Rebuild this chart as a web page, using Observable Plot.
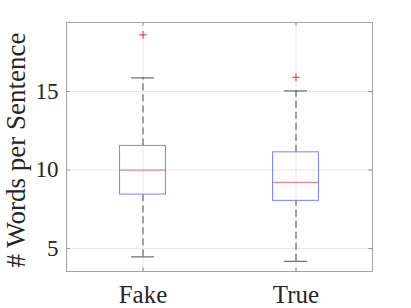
<!DOCTYPE html>
<html>
<head>
<meta charset="utf-8">
<script src="https://cdn.jsdelivr.net/npm/d3@7"></script>
<script src="https://cdn.jsdelivr.net/npm/@observablehq/plot@0.6"></script>
<style>
  html, body { margin: 0; padding: 0; background: #fff; }
  #chart svg { display: block; }
  #chart svg, #chart svg text { font-family: "Liberation Serif", "Times New Roman", Times, serif !important; }
</style>
</head>
<body>
<div id="chart"></div>
<script>
const categories = ["Fake", "True"];
const q1 = [8.44, 8.04];
const medians = [10.0, 9.22];
const q3 = [11.54, 11.13];
const whiskerLow = [4.47, 4.19];
const whiskerHigh = [15.87, 15.04];
const outlierCategory = ["Fake", "True"];
const outlierValue = [18.61, 15.91];
const yTicks = [5, 10, 15];
const yLabel = "# Words per Sentence";

const boxes = categories.map((c, i) => ({
  cat: c, x: i + 1, q1: q1[i], med: medians[i], q3: q3[i], lo: whiskerLow[i], hi: whiskerHigh[i]
}));
const outliers = outlierCategory.map((c, i) => ({ x: categories.indexOf(c) + 1, v: outlierValue[i] }));
const xPos = categories.map((c, i) => i + 1);

const halfBox = 0.15, halfCap = 0.075;
const xDomain = [0.5, categories.length + 0.5];
const yDomain = [3.54, 19.4];
const tickLen = (xDomain[1] - xDomain[0]) * 0.012;
const tickLenY = (yDomain[1] - yDomain[0]) * 0.014;
const whiskerColor = "#4d4d4d";

const chart = Plot.plot({
  width: 411,
  height: 308,
  marginLeft: 66,
  marginRight: 39,
  marginTop: 22,
  marginBottom: 37,
  style: { color: "#262626", background: "#fff" },
  x: { domain: xDomain },
  y: { domain: yDomain },
  marks: [
    Plot.ruleY(yTicks, { stroke: "#e8e8e8", strokeWidth: 1 }),
    Plot.ruleX(xPos, { stroke: "#e8e8e8", strokeWidth: 1 }),
    // inward ticks
    Plot.ruleY(yTicks, { x1: xDomain[0], x2: xDomain[0] + tickLen, stroke: "#8a8a8a" }),
    Plot.ruleY(yTicks, { x1: xDomain[1], x2: xDomain[1] - tickLen, stroke: "#8a8a8a" }),
    Plot.ruleX(xPos, { y1: yDomain[0], y2: yDomain[0] + tickLenY, stroke: "#8a8a8a" }),
    Plot.ruleX(xPos, { y1: yDomain[1], y2: yDomain[1] - tickLenY, stroke: "#8a8a8a" }),
    // whiskers
    Plot.ruleX(boxes, { x: "x", y1: "q3", y2: "hi", stroke: whiskerColor, strokeDasharray: "7,4" }),
    Plot.ruleX(boxes, { x: "x", y1: "lo", y2: "q1", stroke: whiskerColor, strokeDasharray: "7,4" }),
    Plot.ruleY(boxes, { y: "hi", x1: d => d.x - halfCap, x2: d => d.x + halfCap, stroke: whiskerColor }),
    Plot.ruleY(boxes, { y: "lo", x1: d => d.x - halfCap, x2: d => d.x + halfCap, stroke: whiskerColor }),
    // boxes
    Plot.rect(boxes, { x1: d => d.x - halfBox, x2: d => d.x + halfBox, y1: "q1", y2: "q3", fill: "none", stroke: "#7683ff", strokeWidth: 1 }),
    Plot.ruleY(boxes, { y: "med", x1: d => d.x - halfBox, x2: d => d.x + halfBox, stroke: "#f06a6a", strokeWidth: 1 }),
    // outliers
    Plot.dot(outliers, { x: "x", y: "v", symbol: "plus", r: 2.6, stroke: "#ff2020", strokeWidth: 1 }),
    Plot.frame({ stroke: "#a3a3a3" }),
    Plot.axisY(yTicks, { tickSize: 0, tickPadding: 8, fontSize: 23, label: null }),
    Plot.axisX(xPos, { tickSize: 0, tickPadding: 14, fontSize: 25, label: null, tickFormat: d => categories[d - 1] }),
    Plot.text([yLabel], { frameAnchor: "left", textAnchor: "middle", lineAnchor: "middle", dx: -50, dy: 3, rotate: -90, fontSize: 27, fill: "#262626" })
  ]
});
document.getElementById("chart").appendChild(chart);
</script>
</body>
</html>
